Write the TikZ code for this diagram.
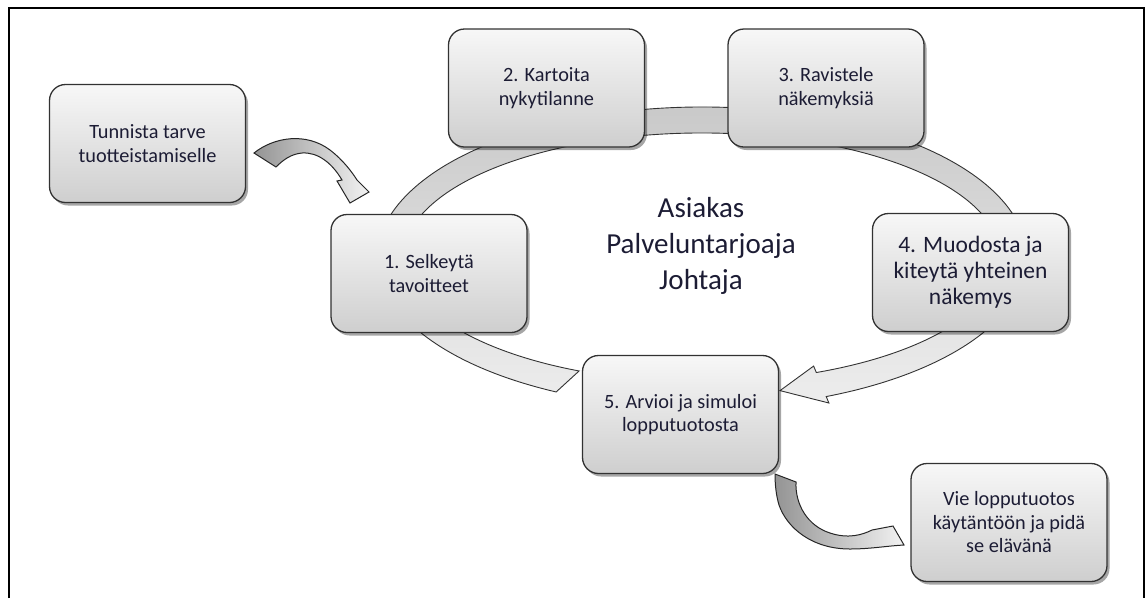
\documentclass[tikz,border=0pt]{standalone}
\usepackage{fontspec}
\setmainfont{Carlito}
\usetikzlibrary{calc,shadows}
\definecolor{ink}{RGB}{28,28,52}
\definecolor{edge}{RGB}{50,50,50}
\begin{document}
\begin{tikzpicture}[x=1pt,y=-1pt,
  stepbox/.style={draw=edge, line width=1.3pt, rounded corners=16pt,
    minimum width=196pt, minimum height=118pt, inner sep=0pt, align=center,
    top color=white!97!black, bottom color=black!19, text=ink,
    font=\fontsize{20.3}{23.5}\selectfont,
    drop shadow={shadow xshift=2.5pt, shadow yshift=-3pt, opacity=0.35, fill=black}},
  hub/.style={align=center, text=ink, font=\fontsize{29}{36}\selectfont},
  ringband/.style={draw=black!80, line width=0.9pt, top color=black!22, bottom color=black!7},
  bentarrow/.style={draw=black!85, line width=1pt, left color=black!42, right color=black!5}]
\useasboundingbox (0,0) rectangle (1147,598);
% outer frame, open at the bottom
\draw[line width=1.8pt] (9,598) -- (9,8) -- (1144,8) -- (1144,598);

% cycle ring with arrow head pointing into step 5
\coordinate (C) at (702,257.5);
\path[ringband]
  ($(C)+(116.7:324.6 and 150.5)$)
  arc[start angle=116.7, end angle=427.5, x radius=324.6, y radius=150.5]
  -- ($(C)+(427.5:331.6 and 157.5)$)
  -- ($(C)+(435.5:311.6 and 137.5)$)
  -- ($(C)+(427.5:291.7 and 117.5)$)
  -- ($(C)+(427.5:298.7 and 124.5)$)
  arc[start angle=427.5, end angle=114.3, x radius=298.7, y radius=124.5]
  -- cycle;

% steps
\node[stepbox] (t0) at (147.5,143.5) {Tunnista tarve\\tuotteistamiselle};
\node[stepbox] (s1) at (429,273.5) {1. Selkeytä\\tavoitteet};
\node[stepbox] (s2) at (546.5,88) {2. Kartoita\\nykytilanne};
\node[stepbox] (s3) at (826,88) {3. Ravistele\\näkemyksiä};
\node[stepbox, font=\fontsize{23.5}{26}\selectfont] (s4) at (970.5,272.5) {4. Muodosta ja\\kiteytä yhteinen\\näkemys};
\node[stepbox] (s5) at (680.5,414.5) {5. Arvioi ja simuloi\\lopputuotosta};
\node[stepbox] (v6) at (1009,522.5) {Vie lopputuotos\\käytäntöön ja pidä\\se elävänä};

% roles in the middle of the ring
\node[hub] (hub) at (701,246) {Asiakas\\Palveluntarjoaja\\Johtaja};

% bent arrow into step 1
\path[bentarrow]
  (254,153) .. controls (274,137) and (306,132) .. (330,150)
  .. controls (343,160) and (352,172) .. (357,180)
  -- (369,192) -- (350,203) -- (337,181) -- (342,180)
  .. controls (332,163) and (318,152) .. (302,153)
  .. controls (291,154) and (283,160) .. (276,167) -- cycle;

% bent arrow out of step 5
\path[bentarrow]
  (775,474) -- (796,482)
  .. controls (795,505) and (808,526) .. (830,533)
  .. controls (848,539) and (862,535) .. (872,530)
  -- (893,526) -- (904,545)
  .. controls (886,546) and (870,549) .. (850,549)
  .. controls (812,549) and (787,528) .. (779,505)
  .. controls (776,495) and (775,484) .. cycle;
\end{tikzpicture}
\end{document}
